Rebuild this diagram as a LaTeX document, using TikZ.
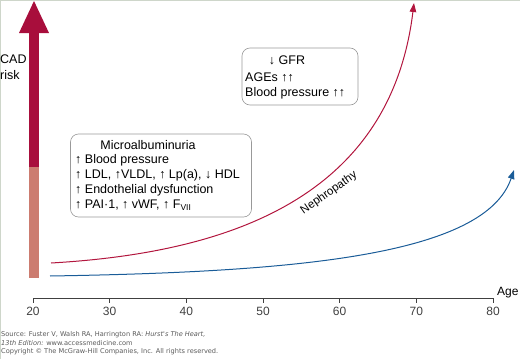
\documentclass[tikz,border=0pt]{standalone}
\usepackage{fontspec}
\setmainfont{Liberation Sans}
\newfontfamily\srcfont{DejaVu Sans}
\usetikzlibrary{arrows.meta,calc}
\definecolor{crimson}{RGB}{168,14,60}
\definecolor{salmon}{RGB}{204,124,112}
\definecolor{nephred}{RGB}{178,22,62}
\definecolor{ageblue}{RGB}{26,92,152}
\definecolor{framegray}{RGB}{206,214,202}
\begin{document}
\begin{tikzpicture}[x=1pt,y=-1pt,
    infobox/.style={draw=gray!80,line width=0.6pt,rounded corners=8pt,inner sep=0pt},
    ticklabel/.style={font=\fontsize{12}{12}\selectfont,anchor=north},
    srcline/.style={font=\srcfont\fontsize{6.6}{7}\selectfont,text=black!65,anchor=west,inner sep=0pt}]
    \useasboundingbox (0,0) rectangle (520,359);
    \draw[framegray,line width=1pt] (0.5,359) -- (0.5,0.5) -- (520,0.5);
    % CAD risk arrow
    \fill[salmon] (29,167) rectangle (39,278);
    \fill[crimson] (29,33) rectangle (39,167);
    \fill[crimson] (19,33) -- (34,1) -- (49,33) -- cycle;
    \node[anchor=north west,align=left,inner sep=0pt,font=\fontsize{12.5}{16}\selectfont] (cad) at (0,55) {CAD\\risk};
    % age axis
    \coordinate (ax0) at (33,298);
    \coordinate (ax1) at (493,298);
    \draw[black!75,line width=0.6pt] (ax0) -- (ax1);
    \foreach \a [count=\i from 0] in {20,30,...,80}
      \draw[black!75,line width=0.6pt] ($(ax0)!\i/6!(ax1)$) -- ++(0,5)
        node[ticklabel] (t\a) {\a};
    \node[anchor=west,inner sep=0pt,font=\fontsize{12}{12}\selectfont] (age) at (497,293) {Age};
    % curves
    \coordinate (r0) at (51,263);
    \coordinate (r1) at (414,3);
    \coordinate (b0) at (50,276);
    \coordinate (b1) at (514,170);
    \draw[nephred,line width=1pt,-{Triangle[length=9pt,width=6.5pt]}]
      (r0) .. controls (225,253) and (390,200) .. (r1);
    \draw[ageblue,line width=1pt,-{Triangle[length=9pt,width=6.5pt]}]
      (b0) .. controls (300,272) and (485,255) .. (b1);
    \node[rotate=35,font=\fontsize{11.5}{12}\selectfont] (neph) at (329,193) {Nephropathy};
    % boxes
    \node[infobox,minimum width=181pt,minimum height=83pt] (micro) at (161,175.5) {};
    \node[infobox,minimum width=116pt,minimum height=57pt] (gfr) at (300,76.5) {};
    \begin{scope}[every node/.style={anchor=west,inner sep=0pt,font=\fontsize{12.5}{14}\selectfont}]
      \node[anchor=center] (m0) at (148,145) {Microalbuminuria};
      \node (m1) at (75,160) {↑ Blood pressure};
      \node (m2) at (75,175) {↑ LDL, ↑VLDL, ↑ Lp(a), ↓ HDL};
      \node (m3) at (75,190) {↑ Endothelial dysfunction};
      \node (m4) at (75,205) {↑ PAI·1, ↑ vWF, ↑ F\raisebox{-2pt}{\fontsize{8.5}{8}\selectfont VII}};
      \node[anchor=center] (g0) at (287,60) {↓ GFR};
      \node (g1) at (245,77) {AGEs ↑↑};
      \node (g2) at (245,93) {Blood pressure ↑↑};
    \end{scope}
    % source
    \node[srcline] (src1) at (1,335) {Source: Fuster V, Walsh RA, Harrington RA: \textit{Hurst's The Heart,}};
    \node[srcline] (src2) at (1,343) {\textit{13th Edition:} www.accessmedicine.com};
    \node[srcline] (src3) at (1,352) {Copyright © The McGraw-Hill Companies, Inc. All rights reserved.};
\end{tikzpicture}
\end{document}
